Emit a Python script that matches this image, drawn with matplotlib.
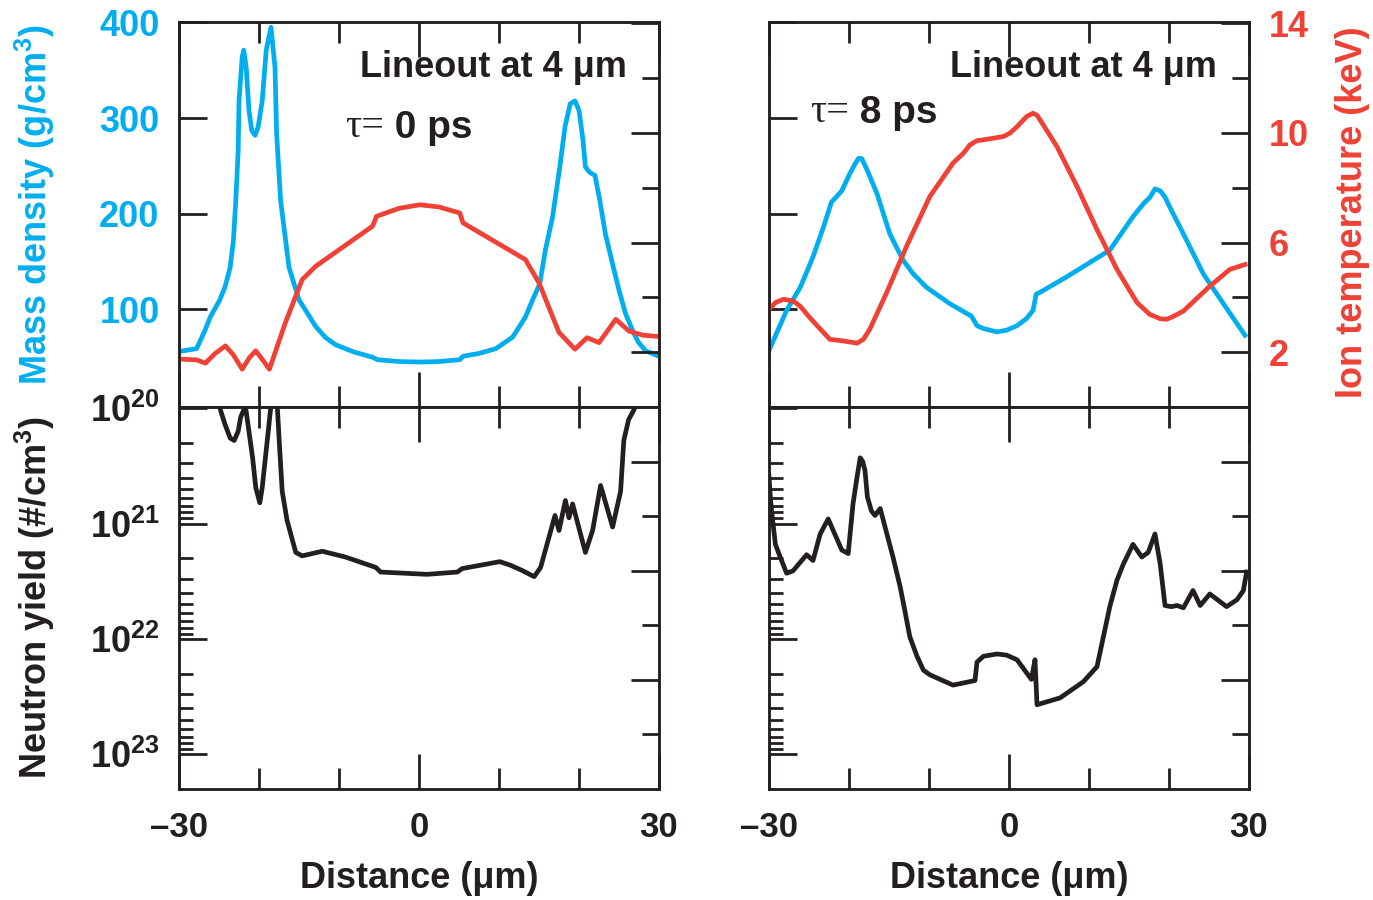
import matplotlib
matplotlib.use('Agg')
import matplotlib.pyplot as plt
from matplotlib.ticker import FixedLocator, LogLocator, NullFormatter
import numpy as np

plt.rcParams['font.family'] = ['Liberation Sans', 'DejaVu Sans']
plt.rcParams['font.weight'] = 'bold'
plt.rcParams['mathtext.fontset'] = 'custom'
plt.rcParams['mathtext.rm'] = 'Liberation Sans:bold'
plt.rcParams['mathtext.it'] = 'Liberation Sans:bold'
plt.rcParams['mathtext.bf'] = 'Liberation Sans:bold'
plt.rcParams['axes.linewidth'] = 1.8

BLUE = '#00aeef'
RED = '#ef4136'
INK = '#231f20'
SERIF = ['Liberation Serif', 'DejaVu Serif']

# ---- tau = 0 ps ----
x_rho0 = [-30, -27.8, -26.75, -26.1, -25.5, -24.9, -24.25, -23.6, -23.2, -22.9, -22.6, -22.5,
          -22.1, -21.9, -21.6, -21.25, -20.9, -20.5, -20.1, -19.6, -19.1, -18.5, -18.0,
          -17.8, -17.3, -16.25, -15, -12.9, -11.7, -10.4, -8.2, -5.8, -5.2, -2.5, 0.1,
          2.5, 5.1, 5.5, 7.5, 9.6, 11.7, 13.3, 14.2, 15.1, 15.8, 16.7, 17.6, 18.25,
          18.9, 19.5, 20.0, 20.5, 20.8, 21.3, 22.0, 22.6, 23.3, 24.3, 25, 25.8, 26.7,
          27.4, 28.3, 30]
rho0 = [56, 59, 78, 92, 101, 110, 123.5, 144, 172, 214, 266, 318,
        364, 371, 353, 308, 287, 282, 291, 318, 371, 395, 353,
        284, 214, 144, 110, 82, 70.7, 63, 55.7, 50, 47.5, 45.5, 45,
        45.5, 47.5, 51, 54, 59, 71, 92, 110, 127, 162, 197, 249, 291,
        315, 318, 308, 277, 249, 243.6, 240, 214, 179, 144, 120, 96, 78,
        66, 57, 51]

x_ti0 = [-30, -27.8, -26.7, -25.5, -24.2, -23.2, -22.1, -21.2, -20.4, -19.5, -18.7,
         -16.7, -14.6, -12.9, -5.8, -5.3, -2.5, 0.1, 2.5, 5.1, 5.5, 13.3, 15,
         17.5, 19.5, 21, 22.5, 24.6, 26.25, 28, 30]
ti0 = [1.75, 1.72, 1.6, 1.95, 2.23, 1.9, 1.38, 1.8, 2.05, 1.7, 1.38,
       3.08, 4.65, 5.14, 6.6, 6.96, 7.25, 7.38, 7.3, 7.08, 6.72, 5.38, 4.53,
       2.72, 2.11, 2.53, 2.35, 3.2, 2.77, 2.62, 2.57]

# neutron yield, log10 of #/cm3
x_yn0 = [-25.2, -24.8, -24.25, -23.6, -23.1, -22.6, -22.3, -21.7, -20.8, -20.4, -19.9,
         -19.6, -19.2, -18.75, -18.4, -18.0, -17.7, -17.4, -17.1, -16.5, -15.8, -15.4,
         -14.6, -12.1, -9.2, -5.4, -4.8, 1.0, 4.8, 5.4, 10.1, 11.4, 13.0, 14.4, 15.2,
         15.8, 17, 17.5, 18.3, 18.75, 19.2, 20.8, 21.7, 22.7, 24.2, 25.2, 25.6, 26.2,
         26.9, 27.3]
yn0_exp = [19.9, 20.02, 20.14, 20.26, 20.28, 20.2, 20.08, 19.98, 20.43, 20.69, 20.82,
           20.69, 20.43, 20.14, 19.9, 19.9, 20.0, 20.37, 20.72, 20.97, 21.15, 21.25,
           21.28, 21.24, 21.29, 21.38, 21.42, 21.44, 21.42, 21.39, 21.33, 21.36, 21.41, 21.46, 21.38,
           21.23, 20.93, 21.06, 20.80, 20.95, 20.83, 21.25, 21.06, 20.67, 21.03, 20.72, 20.28, 20.1,
           20.01, 19.9]

# ---- tau = 8 ps ----
x_rho8 = [-30, -27.8, -26.1, -24.5, -23.2, -22.2, -20.9, -19.9, -19.25, -18.8, -18.4,
          -17.8, -16.5, -15.7, -14.9, -14.0, -13.2, -12.0, -10.3, -7.4, -4.7, -4.0, -3.2,
          -1.5, -0.3, 1.0, 2.2, 3.0, 3.4, 3.9, 7.2, 12.6, 15.5, 16.8, 17.6, 18.25, 18.9,
          19.5, 20.1, 21.8, 24.3, 26.8, 29.5]
rho8 = [57, 99, 123, 155, 186, 212, 224, 242, 252, 258, 257.6,
        247, 221, 200, 179, 164, 151, 137.5, 123, 106, 93, 83, 80,
        76.5, 78.3, 83, 90.5, 99, 116, 118, 134, 162, 197, 210.5, 217, 226, 224,
        217.5, 207, 179, 137, 106, 73]

x_ti8 = [-30, -29.2, -28.2, -27, -26.1, -24.9, -22.4, -20.7, -19.0, -18.2, -17.4, -15.3,
         -12.8, -9.9, -7.0, -5.7, -4.9, -4.0, -3.2, -0.7, 0.1, 1.0, 2.2, 3.0, 3.5, 3.9,
         6.0, 8.5, 11.0, 13.5, 16.0, 17.6, 18.9, 19.7, 20.5, 21.8, 25.1, 27.6, 29.5]
ti8 = [3.56, 3.81, 3.93, 3.87, 3.68, 3.26, 2.47, 2.41, 2.33, 2.47, 2.84, 4.17,
       5.87, 7.68, 8.9, 9.26, 9.56, 9.72, 9.75, 9.87, 9.99, 10.23, 10.6, 10.72, 10.65, 10.47,
       9.5, 8.05, 6.47, 5.02, 3.81, 3.38, 3.22, 3.2, 3.3, 3.5, 4.41, 5.02, 5.2]

x_yn8 = [-30, -29.8, -29.5, -29.2, -28.6, -27.8, -27.0, -25.3, -24.5, -23.6, -22.6, -20.9,
         -20.1, -19.5, -19.0, -18.6, -18.3, -18.0, -17.7, -17.2, -16.75, -16.1, -14.5, -13.6,
         -13.2, -12.4, -11.5, -10.7, -9.9, -7.0, -4.25, -4.0, -3.2, -1.5, -0.3, 1.0, 2.8,
         3.25, 3.5, 6.4, 9.3, 11.0, 11.8, 12.6, 13.5, 14.3, 15.5, 16.6, 17.4, 18.25, 18.9,
         19.5, 20.3, 21.0, 21.8, 23.0, 23.9, 25.1, 27.2, 28.5, 29.3, 29.7]
yn8_exp = [20.59, 20.80, 21.0, 21.18, 21.29, 21.43, 21.41, 21.27, 21.32, 21.09, 20.96, 21.23,
           21.26, 20.83, 20.60, 20.43, 20.46, 20.54, 20.77, 20.89, 20.93, 20.87, 21.29, 21.55,
           21.69, 21.98, 22.15, 22.27, 22.31, 22.40, 22.36, 22.20, 22.15, 22.13, 22.14, 22.18, 22.35,
           22.18, 22.57, 22.51, 22.37, 22.24, 21.98, 21.72, 21.49, 21.35, 21.18, 21.29, 21.25, 21.09, 21.35,
           21.71, 21.72, 21.71, 21.73, 21.58, 21.71, 21.61, 21.72, 21.66, 21.58, 21.42]

tau_labels = ['0', '8']
x_ticklabels = ['\u201330', '0', '30']
rho_ticks = [100, 200, 300, 400]
ti_ticks = [2, 6, 10, 14]
yn_ticks = [1e20, 1e21, 1e22, 1e23]
yn_ticklabels = [r'$10^{20}$', r'$10^{21}$', r'$10^{22}$', r'$10^{23}$']

fig = plt.figure(figsize=(13.73, 9.0), dpi=100)

W = 480 / 1373
lefts = [179 / 1373, 769 / 1373]
top_box = (1 - 407 / 900, 385 / 900)
bot_box = (1 - 789 / 900, 382 / 900)
LW = 3.4


def style_x(ax, labels):
    ax.set_xlim(-30, 30)
    ax.xaxis.set_major_locator(FixedLocator([-30, 0, 30]))
    ax.xaxis.set_minor_locator(FixedLocator([-20, -10, 10, 20]))
    ax.tick_params(axis='x', which='major', direction='in', length=25, width=2,
                   top=True, bottom=True, color=INK)
    ax.tick_params(axis='x', which='minor', direction='in', length=15, width=2,
                   top=True, bottom=True, color=INK)
    if labels:
        ax.set_xticklabels(x_ticklabels, fontsize=25, color=INK)
        ax.tick_params(axis='x', pad=16)
    else:
        ax.tick_params(axis='x', labelbottom=False)


panels = [
    (x_rho0, rho0, x_ti0, ti0, x_yn0, yn0_exp),
    (x_rho8, rho8, x_ti8, ti8, x_yn8, yn8_exp),
]

for i, (xr, rho, xt, ti, xn, yn) in enumerate(panels):
    left = lefts[i]

    # upper panel: density + ion temperature
    ax = fig.add_axes([left, top_box[0], W, top_box[1]])
    ax.plot(xr, rho, color=BLUE, lw=LW, solid_joinstyle='round')
    ax.set_ylim(-2, 400.5)
    style_x(ax, False)
    ax.yaxis.set_major_locator(FixedLocator(rho_ticks))
    ax.tick_params(axis='y', direction='in', length=20, width=2, left=True, right=False,
                   pad=14, color=INK)
    if i == 0:
        ax.set_yticklabels([str(v) for v in rho_ticks], fontsize=26, color=BLUE)
    else:
        ax.tick_params(axis='y', labelleft=False)

    tw = ax.twinx()
    tw.plot(xt, ti, color=RED, lw=LW, solid_joinstyle='round')
    tw.set_ylim(0, 14.05)
    tw.yaxis.set_major_locator(FixedLocator(ti_ticks))
    tw.yaxis.set_minor_locator(FixedLocator([4, 8, 12]))
    tw.tick_params(axis='y', which='major', direction='in', length=20, width=2,
                   right=True, left=False, pad=14, color=INK)
    tw.tick_params(axis='y', which='minor', direction='in', length=12, width=2,
                   right=True, left=False, color=INK)
    if i == 1:
        tw.set_yticklabels([str(v) for v in ti_ticks], fontsize=26, color=RED)
    else:
        tw.tick_params(axis='y', labelright=False)

    ax.text(0.933, 0.883, 'Lineout at 4 \u03bcm', transform=ax.transAxes,
            ha='right', va='center', fontsize=26, color=INK)
    tx, ty = [(0.346, 0.725), (0.085, 0.766)][i]
    t1 = ax.text(tx, ty, '\u03c4=', transform=ax.transAxes, family=SERIF,
                 weight='normal', ha='left', va='center', fontsize=29, color=INK)
    ax.annotate(' ' + tau_labels[i] + ' ps', xy=(1, 0), xycoords=t1, ha='left',
                va='bottom', fontsize=28, color=INK)

    # lower panel: neutron yield
    bx = fig.add_axes([left, bot_box[0], W, bot_box[1]])
    bx.plot(xn, 10 ** np.array(yn), color=INK, lw=LW, solid_joinstyle='round')
    bx.set_yscale('log')
    bx.set_ylim(10 ** 23.3, 10 ** 19.99)
    style_x(bx, True)
    bx.yaxis.set_major_locator(FixedLocator(yn_ticks))
    bx.yaxis.set_minor_locator(LogLocator(base=10, subs=range(2, 10)))
    bx.yaxis.set_minor_formatter(NullFormatter())
    bx.tick_params(axis='y', which='major', direction='in', length=20, width=2,
                   left=True, right=False, pad=14, color=INK)
    bx.tick_params(axis='y', which='minor', direction='in', length=10, width=2,
                   left=True, right=False, color=INK)
    if i == 0:
        bx.set_yticklabels(yn_ticklabels, fontsize=26, color=INK)
    else:
        bx.tick_params(axis='y', labelleft=False)

    bt = bx.twinx()
    bt.set_ylim(7, 0)
    bt.yaxis.set_major_locator(FixedLocator([1, 3, 5]))
    bt.yaxis.set_minor_locator(FixedLocator([2, 4, 6]))
    bt.tick_params(axis='y', which='major', direction='in', length=20, width=2,
                   right=True, left=False, labelright=False, color=INK)
    bt.tick_params(axis='y', which='minor', direction='in', length=12, width=2,
                   right=True, left=False, color=INK)

    for a in (ax, tw, bx, bt):
        for s in a.spines.values():
            s.set_color(INK)

    fig.text(left + W / 2, 1 - 878 / 900, 'Distance (\u03bcm)', ha='center', va='center',
             fontsize=26, color=INK)

fig.text(35 / 1373, 1 - 205 / 900, 'Mass density (g/cm$^3$)', rotation=90,
         ha='center', va='center', fontsize=26, color=BLUE)
fig.text(35 / 1373, 1 - 598 / 900, 'Neutron yield (#/cm$^3$)', rotation=90,
         ha='center', va='center', fontsize=26, color=INK)
fig.text(1352 / 1373, 1 - 212 / 900, 'Ion temperature (keV)', rotation=90,
         ha='center', va='center', fontsize=26, color=RED)

fig.savefig('out.png', dpi=100)
